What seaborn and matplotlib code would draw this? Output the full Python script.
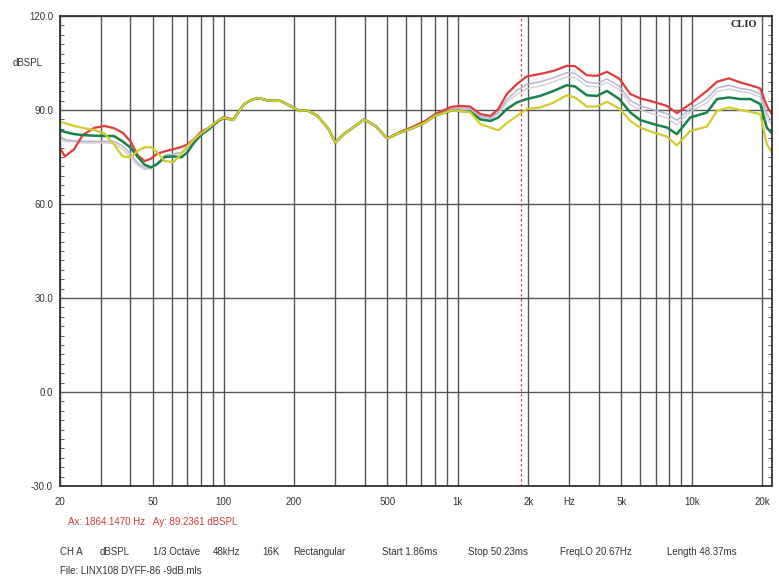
import matplotlib
matplotlib.use('Agg')
import matplotlib.pyplot as plt
from matplotlib.ticker import MultipleLocator, NullFormatter
import pandas as pd
import seaborn as sns

sns.set_style("white")
plt.rcParams['font.family'] = ['Liberation Sans', 'DejaVu Sans']

# %% data
freq = [20, 21, 23, 25, 28, 31, 34, 37, 40, 43, 46, 49, 52, 56, 61, 66, 70, 75, 80, 87,
        95, 100, 110, 122, 132, 141, 155, 175, 193, 211, 228, 252, 281, 300, 326, 365,
        398, 445, 500, 560, 632, 725, 800, 940,
        1020, 1130, 1250, 1380, 1490, 1620, 1790, 1970, 2250, 2570, 2920, 3170, 3560, 3930, 4340,
        4900, 5460, 6020, 6860, 7830, 8630, 9840, 11600, 12800, 14400, 16100, 17800, 19600,
        20900, 22000]

splRed = [77.8, 75.2, 77.5, 82.0, 84.3, 84.9, 84.2, 82.8, 80.0, 75.5, 73.7, 74.5, 76.0, 76.8,
          77.5, 78.2, 79.0, 80.8, 82.9, 84.5, 86.8, 87.7, 87.0, 91.8, 93.3, 93.8, 93.0, 92.9,
          91.3, 89.7, 89.9, 88.1, 83.9, 79.6, 82.3, 84.9, 87.0, 84.9, 80.9, 82.8, 84.4, 86.5,
          88.7, 91.0,
          91.3, 91.1, 88.7, 88.1, 90.3, 95.1, 98.3, 100.7, 101.5, 102.5, 104.1, 104.0, 101.1,
          100.9, 102.2,
          100.0, 95.1, 93.7, 92.6, 91.3, 89.0, 91.9, 96.1, 99.0, 100.1, 98.8, 97.9, 96.9, 91.3, 88.5]

splGreen = [83.5, 83.0, 82.3, 82.0, 81.8, 81.7, 81.7, 80.0, 78.0, 75.0, 72.5, 71.7, 72.7, 75.0,
            75.2, 74.9, 76.5, 79.7, 82.0, 84.0, 86.5, 87.4, 86.8, 91.8, 93.3, 93.8, 93.0, 92.9,
            91.3, 89.7, 89.9, 88.1, 83.9, 79.6, 82.3, 84.9, 87.0, 84.9, 80.9, 82.6, 84.0, 86.0,
            88.2, 89.8,
            89.7, 89.5, 87.0, 86.5, 87.6, 90.3, 92.4, 93.5, 94.5, 96.1, 97.9, 97.5, 94.7, 94.5, 96.1,
            93.5, 89.2, 86.8, 85.5, 84.4, 82.3, 87.6, 89.2, 93.5, 94.0, 93.5, 93.5, 91.9, 84.4, 82.5]

splYellow = [86.2, 85.8, 84.9, 84.3, 83.6, 82.5, 79.0, 75.2, 74.9, 77.0, 78.1, 78.1, 76.5, 73.7,
             73.4, 75.9, 78.5, 80.7, 82.5, 84.5, 86.8, 87.5, 86.8, 91.8, 93.3, 93.8, 93.0, 92.9,
             91.3, 89.7, 89.9, 88.1, 83.9, 79.6, 82.3, 84.9, 87.0, 84.9, 80.9, 82.6, 84.0, 86.0,
             88.2, 89.8,
             89.7, 89.3, 85.5, 84.4, 83.5, 85.8, 88.1, 90.3, 90.8, 92.4, 94.7, 94.0, 91.1, 91.1, 92.6,
             90.5, 86.5, 84.4, 82.8, 81.5, 78.7, 83.3, 84.7, 89.7, 90.8, 90.0, 89.4, 88.7, 79.1, 76.4]

splLavender = [81.5, 80.5, 80.2, 80.0, 80.0, 80.0, 80.0, 78.5, 76.0, 73.0, 71.5, 71.5, 73.0, 75.5,
               76.0, 76.5, 78.0, 80.5, 82.5, 84.3, 86.6, 87.5, 86.9, 91.8, 93.3, 93.8, 93.0, 92.9,
               91.3, 89.7, 89.9, 88.1, 83.9, 79.6, 82.3, 84.9, 87.0, 84.9, 80.9, 82.7, 84.2, 86.2,
               88.4, 90.3,
               90.7, 90.5, 88.0, 87.5, 89.3, 93.3, 96.2, 98.2, 99.0, 100.3, 101.9, 101.7, 98.9,
               98.5, 99.9,
               97.6, 93.0, 91.3, 90.1, 88.8, 86.7, 90.4, 93.7, 97.0, 97.9, 96.9, 96.4, 95.1, 88.8, 86.4]

splSilver = [80.5, 80.0, 79.8, 79.5, 79.5, 79.5, 79.3, 77.5, 75.0, 72.3, 71.0, 71.2, 72.8, 75.2,
             75.8, 76.2, 77.5, 80.2, 82.3, 84.2, 86.6, 87.5, 86.9, 91.8, 93.3, 93.8, 93.0, 92.9,
             91.3, 89.7, 89.9, 88.1, 83.9, 79.6, 82.3, 84.9, 87.0, 84.9, 80.9, 82.7, 84.2, 86.2,
             88.4, 90.1,
             90.4, 90.2, 87.8, 87.2, 88.8, 92.4, 95.0, 96.8, 97.6, 99.0, 100.6, 100.4, 97.6,
             97.4, 98.8,
             96.5, 91.8, 90.0, 88.7, 87.5, 85.3, 89.5, 92.3, 95.9, 96.7, 95.9, 95.4, 94.1, 87.5, 85.3]

xTicks = [20, 50, 100, 200, 500, 1000, 2000, 3000, 5000, 10000, 20000]
xTickLabels = ['20', '50', '100', '200', '500', '1k', '2k', 'Hz', '5k', '10k', '20k']
xGrid = [20, 30, 40, 50, 60, 70, 80, 90,
         100, 200, 300, 400, 500, 600, 700, 800, 900,
         1000, 2000, 3000, 4000, 5000, 6000, 7000, 8000, 9000,
         10000, 20000]
yTicks = [-30, 0, 30, 60, 90, 120]
yTickLabels = ['-30.0', '0.0', '30.0', '60.0', '90.0', '120.0']

cursorX = 1864.1470
cursorY = 89.2361

# %% plot
fig = plt.figure(figsize=(7.79, 5.83), dpi=100)
ax = fig.add_axes([60 / 779, 1 - 486 / 583, 712 / 779, 470 / 583])

curves = [('silver', splSilver, '#cfcfd6', 1.0),
          ('lavender', splLavender, '#b9b3d3', 1.1),
          ('red', splRed, '#e23b3b', 1.6),
          ('green', splGreen, '#16834a', 1.8),
          ('yellow', splYellow, '#d3cc2c', 1.6)]

for name, spl, col, lw in curves:
    dfCurve = pd.DataFrame({'freq': freq, 'spl': spl})
    sns.lineplot(x='freq', y='spl', data=dfCurve, color=col, linewidth=lw,
                 estimator=None, ax=ax)

ax.set_xscale('log')
ax.set_xlim(20, 22000)
ax.set_ylim(-30, 120)

ax.set_xticks(xTicks)
ax.set_xticklabels(xTickLabels)
ax.set_xticks(xGrid, minor=True)
ax.xaxis.set_minor_formatter(NullFormatter())
ax.set_yticks(yTicks)
ax.set_yticklabels(yTickLabels)
ax.yaxis.set_minor_locator(MultipleLocator(3))

ax.grid(True, which='both', axis='x', color='#555555', linewidth=1.0)
ax.grid(True, which='major', axis='y', color='#555555', linewidth=1.0)
ax.set_axisbelow(True)

ax.tick_params(axis='x', which='both', length=0, pad=8, labelsize=7, labelcolor='#333333')
ax.tick_params(axis='y', which='major', length=0, pad=5, labelsize=7, labelcolor='#333333')
ax.tick_params(axis='y', which='minor', length=3, direction='in', left=True, right=True,
               color='#444444')

for sp in ax.spines.values():
    sp.set_color('#333333')
    sp.set_linewidth(1.3)

ax.set_xlabel('')
ax.set_ylabel('')

# cursor
ax.axvline(cursorX, color='#d04848', linestyle=(0, (2, 2)), linewidth=0.9)

ax.text(0.979, 0.981, 'CLIO', transform=ax.transAxes, ha='right', va='center',
        fontsize=7.5, fontweight='bold', family=['Liberation Serif', 'DejaVu Serif'],
        color='#222222')

fig.text(13 / 779, 1 - 63 / 583, 'dBSPL', ha='left', va='center', fontsize=7, color='#333333')

fig.text(68 / 779, 1 - 522 / 583, 'Ax: %.4f Hz   Ay: %.4f dBSPL' % (cursorX, cursorY),
         ha='left', va='center', fontsize=7, color='#c83c3c')

infoFields = [(60, 'CH A'), (100, 'dBSPL'), (153, '1/3 Octave'), (213, '48kHz'), (262, '16K'),
              (293, 'Rectangular'), (382, 'Start 1.86ms'), (468, 'Stop 50.23ms'),
              (560, 'FreqLO 20.67Hz'), (667, 'Length 48.37ms')]
for px, txt in infoFields:
    fig.text(px / 779, 1 - 552 / 583, txt, ha='left', va='center', fontsize=7, color='#333333')

fig.text(60 / 779, 1 - 571 / 583, 'File: LINX108 DYFF-86 -9dB.mls', ha='left', va='center',
         fontsize=7, color='#333333')

plt.savefig('out.png', dpi=100)
